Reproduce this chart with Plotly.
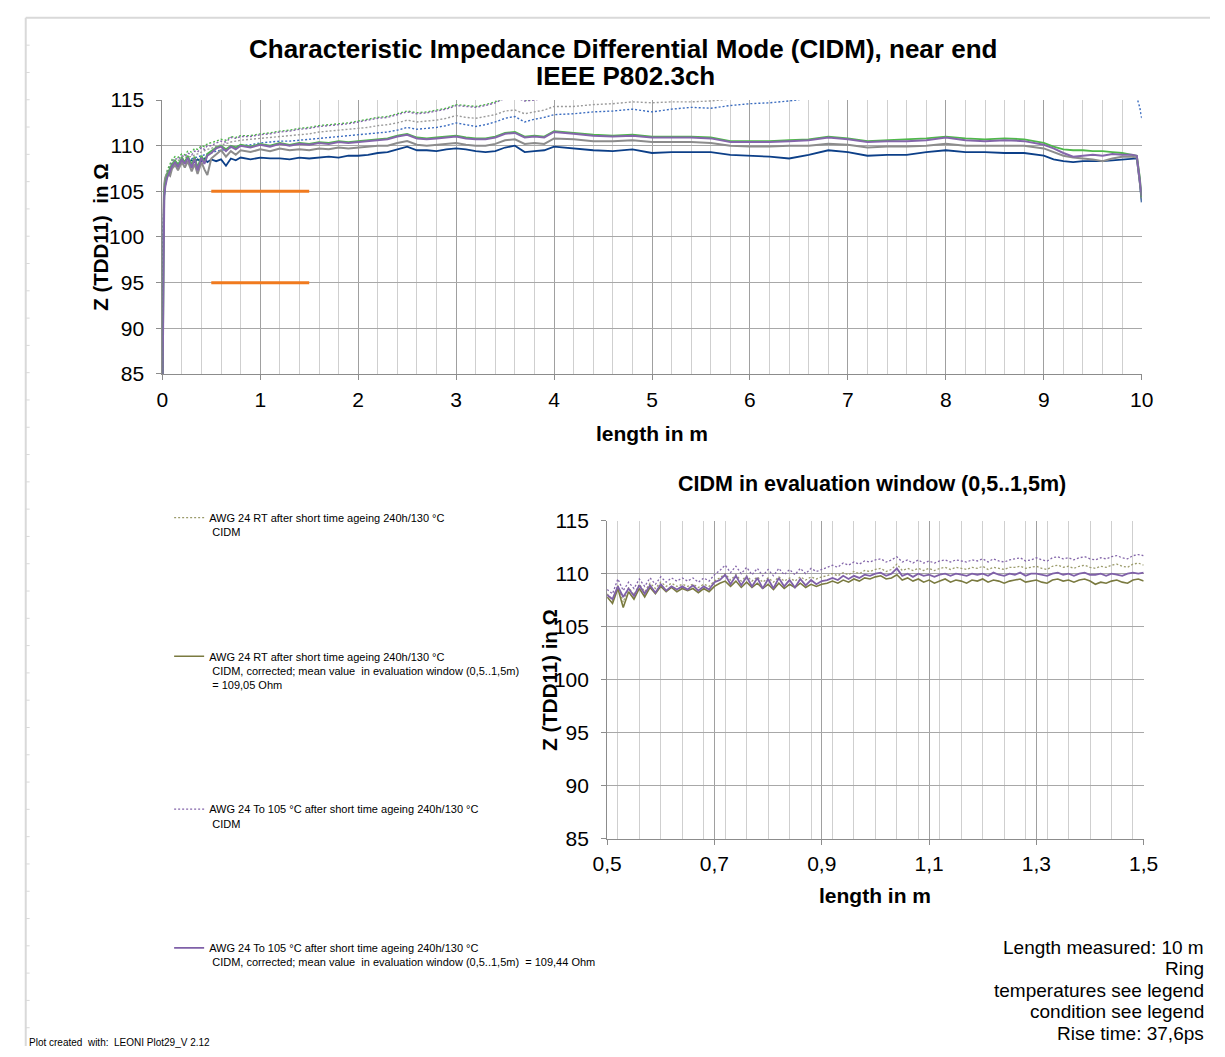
import plotly.graph_objects as go

# ---------------- data: overview chart (0..10 m) ----------------
length_top = [0.0, 0.005, 0.01, 0.02, 0.03, 0.05, 0.08, 0.1, 0.13, 0.16, 0.2, 0.23, 0.26, 0.3, 0.33, 0.36,
              0.4, 0.43, 0.46, 0.5, 0.55, 0.6, 0.65, 0.7, 0.75, 0.8, 0.9, 1.0, 1.1, 1.2, 1.3, 1.4, 1.5,
              1.6, 1.7, 1.8, 1.9, 2.0, 2.1, 2.2, 2.3, 2.4, 2.5, 2.6, 2.7, 2.8, 2.9, 3.0, 3.1, 3.2, 3.3,
              3.4, 3.5, 3.6, 3.7, 3.8, 3.9, 4.0, 4.2, 4.4, 4.6, 4.8, 5.0, 5.2, 5.4, 5.6, 5.8, 6.0, 6.2,
              6.4, 6.6, 6.8, 7.0, 7.2, 7.4, 7.6, 7.8, 8.0, 8.2, 8.4, 8.6, 8.8, 9.0, 9.1, 9.2, 9.3, 9.4,
              9.5, 9.6, 9.7, 9.8, 9.9, 9.95, 9.98, 10.0]

blue_solid = [80, 92, 101, 104.5, 105.8, 106.8, 107.3, 107.6, 107.8, 108.0, 108.1, 108.3, 108.2, 108.4, 108.2, 108.5,
              108.3, 108.6, 108.2, 108.5, 108.3, 108.5, 107.8, 108.6, 108.4, 108.7, 108.5, 108.7, 108.6, 108.6, 108.5, 108.7, 108.6,
              108.7, 108.8, 108.7, 108.9, 108.9, 109.0, 109.2, 109.3, 109.6, 109.9, 109.5, 109.5, 109.4, 109.6, 109.7, 109.6, 109.4, 109.3,
              109.4, 109.8, 110.0, 109.3, 109.4, 109.5, 109.9, 109.7, 109.5, 109.4, 109.6, 109.2, 109.3, 109.3, 109.3, 109.0, 108.9, 108.8,
              108.6, 109.0, 109.5, 109.3, 108.9, 109.0, 109.0, 109.3, 109.5, 109.3, 109.3, 109.2, 109.2, 108.9, 108.5, 108.3, 108.2, 108.3,
              108.3, 108.3, 108.4, 108.5, 108.6, 108.6, 106.0, 103.8]

gray_solid = [80, 95, 103, 105.8, 106.5, 107.0, 106.7, 107.5, 107.9, 107.3, 108.2, 107.6, 108.3, 107.2, 108.0, 106.9,
              108.2, 107.4, 106.8, 108.6, 109.0, 109.5, 108.8, 109.4, 109.0, 109.5, 109.3, 109.6, 109.4, 109.7, 109.5, 109.6, 109.5,
              109.7, 109.6, 109.8, 109.7, 109.8, 109.9, 110.0, 110.0, 110.3, 110.5, 110.1, 110.0, 110.1, 110.2, 110.3, 110.1, 110.0, 110.0,
              110.2, 110.6, 110.7, 110.2, 110.3, 110.2, 110.8, 110.7, 110.5, 110.5, 110.6, 110.4, 110.4, 110.4, 110.3, 110.0, 109.9, 109.9,
              110.0, 110.0, 110.2, 110.1, 109.8, 109.9, 109.9, 110.0, 110.2, 110.0, 110.0, 110.0, 110.0, 109.7, 109.3, 108.9, 108.7, 108.6,
              108.5, 108.3, 108.6, 108.8, 108.8, 108.7, 106.3, 104.2]

green_solid = [80, 89, 100.5, 104.8, 105.8, 106.8, 107.6, 108.0, 108.4, 107.9, 108.7, 108.2, 108.9, 107.9, 108.8, 107.6,
               108.9, 108.2, 109.1, 109.4, 109.8, 110.0, 109.6, 110.0, 109.8, 110.1, 109.9, 110.2, 110.0, 110.3, 110.1, 110.3, 110.2,
               110.4, 110.3, 110.5, 110.4, 110.5, 110.6, 110.7, 110.8, 111.1, 111.3, 110.9, 110.8, 110.9, 111.0, 111.1, 110.9, 110.8, 110.8,
               111.0, 111.4, 111.5, 111.0, 111.1, 111.0, 111.6, 111.4, 111.2, 111.1, 111.2, 111.0, 111.0, 111.0, 110.9, 110.5, 110.5, 110.5,
               110.6, 110.7, 111.0, 110.8, 110.5, 110.6, 110.7, 110.8, 111.0, 110.8, 110.7, 110.8, 110.7, 110.3, 109.9, 109.6, 109.5, 109.5,
               109.4, 109.4, 109.3, 109.2, 109.0, 108.9, 106.6, 104.4]

purple_solid = [80, 88, 100, 104.5, 105.5, 106.5, 107.3, 107.8, 108.2, 107.7, 108.5, 108.0, 108.7, 107.6, 108.6, 107.3,
                108.7, 108.0, 108.9, 109.2, 109.7, 109.9, 109.4, 109.9, 109.6, 110.0, 109.8, 110.1, 109.9, 110.2, 110.0, 110.2, 110.1,
                110.3, 110.2, 110.4, 110.3, 110.4, 110.5, 110.6, 110.7, 111.0, 111.2, 110.8, 110.7, 110.8, 110.9, 111.0, 110.8, 110.7, 110.7,
                110.9, 111.3, 111.4, 110.9, 111.0, 110.9, 111.5, 111.3, 111.1, 111.0, 111.1, 110.9, 110.9, 110.9, 110.8, 110.4, 110.4, 110.4,
                110.5, 110.6, 110.9, 110.7, 110.4, 110.5, 110.5, 110.6, 110.9, 110.6, 110.5, 110.6, 110.5, 110.1, 109.7, 109.2, 108.8, 108.9,
                109.0, 108.9, 109.1, 109.0, 109.0, 108.9, 106.5, 104.5]

blue_dotted = [80, 91, 101, 104.8, 106.0, 106.9, 107.5, 107.8, 108.0, 108.1, 108.3, 108.4, 108.5, 108.6, 108.7, 108.8,
               108.9, 109.0, 109.1, 109.2, 109.4, 109.5, 109.6, 109.8, 109.9, 110.0, 110.1, 110.3, 110.4, 110.5, 110.5, 110.6, 110.7,
               110.8, 110.9, 111.0, 111.1, 111.2, 111.3, 111.4, 111.5, 111.7, 112.0, 111.8, 111.9, 112.0, 112.2, 112.5, 112.3, 112.1, 112.3,
               112.6, 113.0, 113.2, 112.6, 112.9, 113.1, 113.4, 113.5, 113.7, 113.8, 114.0, 113.7, 114.0, 114.2, 114.1, 114.4, 114.6, 114.7,
               114.9, 115.2, 115.4, 115.5, 115.5, 115.6, 115.6, 115.7, 115.8, 115.8, 115.8, 115.8, 115.9, 115.9, 115.9, 115.9, 115.9, 115.9,
               115.9, 115.9, 115.9, 115.9, 115.8, 115.3, 114.2, 113.0]

gray_dotted = [80, 92, 101.5, 105.0, 106.2, 107.1, 107.7, 108.0, 108.2, 108.4, 108.6, 108.7, 108.8, 108.8, 109.0, 109.1,
               109.3, 109.4, 109.6, 109.7, 109.9, 110.1, 110.2, 110.4, 110.5, 110.6, 110.7, 110.8, 110.9, 111.0, 111.1, 111.2, 111.3,
               111.5, 111.6, 111.7, 111.8, 111.9, 112.0, 112.2, 112.3, 112.5, 112.8, 112.6, 112.7, 112.8, 113.0, 113.3, 113.1, 113.0, 113.2,
               113.4, 113.8, 113.9, 113.5, 113.7, 113.9, 114.3, 114.3, 114.5, 114.6, 114.8, 114.7, 114.8, 114.8, 114.9, 115.1, 115.3, 115.4,
               115.5, 115.6, 115.7, 115.7, 115.7, 115.8, 115.8, 115.8, 115.9, 115.9, 115.9, 115.9, 116.0, 116.0, 116.0, 116.0, 116.0, 116.0,
               116.0, 116.0, 116.0, 116.0, 116.0, 116.0, 116.0, 116.0]

green_dotted = [80, 90, 101, 105.2, 106.3, 107.3, 108.0, 108.5, 108.8, 108.7, 109.1, 109.0, 109.4, 109.3, 109.7, 109.6,
                110.0, 109.9, 110.2, 110.3, 110.5, 110.7, 110.6, 111.0, 110.9, 111.1, 111.1, 111.3, 111.4, 111.6, 111.7, 111.9, 112.0,
                112.2, 112.3, 112.4, 112.5, 112.7, 112.9, 113.1, 113.2, 113.5, 113.8, 113.6, 113.7, 113.9, 114.1, 114.5, 114.4, 114.3, 114.5,
                114.8, 115.3, 115.4, 115.0, 115.1, 115.3, 115.9, 116.0, 116.0, 116.1, 116.1, 116.1, 116.1, 116.2, 116.2, 116.2, 116.2, 116.2,
                116.2, 116.3, 116.3, 116.3, 116.3, 116.3, 116.3, 116.3, 116.3, 116.3, 116.3, 116.3, 116.3, 116.3, 116.3, 116.3, 116.3, 116.3,
                116.3, 116.3, 116.3, 116.3, 116.3, 116.3, 116.3, 116.3]

purple_dotted = [80, 90, 101, 105.0, 106.0, 107.0, 107.8, 108.3, 108.6, 108.5, 108.9, 108.8, 109.2, 109.0, 109.4, 109.3,
                 109.8, 109.6, 110.0, 110.0, 110.3, 110.5, 110.4, 110.9, 110.8, 111.0, 111.0, 111.2, 111.3, 111.5, 111.6, 111.8, 111.9,
                 112.1, 112.2, 112.3, 112.4, 112.6, 112.8, 113.0, 113.1, 113.4, 113.7, 113.5, 113.6, 113.8, 114.0, 114.4, 114.3, 114.2, 114.4,
                 114.7, 115.2, 115.3, 114.9, 115.0, 115.2, 115.8, 115.9, 115.9, 116.0, 116.0, 116.0, 116.0, 116.1, 116.1, 116.1, 116.1, 116.1,
                 116.1, 116.2, 116.2, 116.2, 116.2, 116.2, 116.2, 116.2, 116.2, 116.2, 116.2, 116.2, 116.2, 116.2, 116.2, 116.2, 116.2, 116.2,
                 116.2, 116.2, 116.2, 116.2, 116.2, 116.2, 116.2, 116.2]

limit_x = [0.5, 1.5]
upper_limit = [105, 105]
lower_limit = [95, 95]

# ---------------- data: evaluation window (0,5..1,5 m) ----------------
length_win = [round(0.5 + 0.01 * i, 2) for i in range(101)]

rt_raw = [108.1, 107.5, 108.9, 107.3, 108.7, 108.0, 109.0, 108.3, 109.1, 108.6, 109.2, 108.8, 109.1, 108.8, 109.0, 108.8,
          109.0, 108.7, 109.0, 108.8, 109.3, 109.6, 110.0, 109.4, 109.9, 109.3, 109.8, 109.3, 109.7, 109.2, 109.6, 109.2,
          109.7, 109.3, 109.6, 109.3, 109.7, 109.4, 109.7, 109.5, 109.7, 109.8, 110.0, 109.8, 110.1, 109.9, 110.2, 110.0,
          110.3, 110.2, 110.4, 110.5, 110.2, 110.4, 110.9, 110.3, 110.5, 110.3, 110.5, 110.3, 110.5, 110.3, 110.5, 110.6,
          110.4, 110.6, 110.5, 110.4, 110.6, 110.5, 110.7, 110.4, 110.6, 110.5, 110.4, 110.6, 110.6, 110.7, 110.5, 110.6,
          110.7, 110.5, 110.4, 110.7, 110.8, 110.6, 110.7, 110.5, 110.7, 110.8, 110.6, 110.5, 110.7, 110.6, 110.8, 110.9,
          110.7, 110.6, 110.9, 111.0, 110.8]

rt_corrected = [107.8, 107.2, 108.6, 106.8, 108.3, 107.6, 108.6, 107.8, 108.7, 108.1, 108.8, 108.3, 108.7, 108.3, 108.6, 108.4,
                108.6, 108.2, 108.6, 108.3, 108.8, 109.1, 109.3, 108.8, 109.3, 108.7, 109.2, 108.7, 109.1, 108.6, 109.0, 108.5,
                109.1, 108.6, 109.0, 108.7, 109.1, 108.7, 109.0, 108.8, 109.0, 109.1, 109.3, 109.1, 109.4, 109.2, 109.5, 109.3,
                109.6, 109.5, 109.7, 109.8, 109.5, 109.6, 109.9, 109.4, 109.6, 109.3, 109.5, 109.2, 109.4, 109.1, 109.3, 109.5,
                109.2, 109.4, 109.3, 109.1, 109.4, 109.3, 109.5, 109.2, 109.4, 109.3, 109.1, 109.3, 109.4, 109.5, 109.2, 109.3,
                109.4, 109.2, 109.1, 109.4, 109.5, 109.3, 109.4, 109.2, 109.4, 109.5, 109.3, 109.0, 109.2, 109.1, 109.3, 109.4,
                109.2, 109.1, 109.4, 109.5, 109.3]

t105_raw = [108.5, 108.1, 109.5, 108.4, 109.2, 108.6, 109.5, 108.8, 109.6, 109.0, 109.7, 109.2, 109.6, 109.3, 109.6, 109.3,
            109.6, 109.2, 109.6, 109.3, 109.9, 110.3, 110.8, 110.1, 110.7, 110.0, 110.6, 109.9, 110.5, 109.8, 110.4, 109.8,
            110.5, 109.9, 110.4, 109.9, 110.5, 110.0, 110.5, 110.2, 110.4, 110.6, 110.8, 110.6, 111.0, 110.8, 111.1, 110.9,
            111.2, 111.1, 111.3, 111.4, 111.1, 111.3, 111.6, 111.1, 111.3, 111.0, 111.3, 111.0, 111.2, 111.0, 111.2, 111.3,
            111.1, 111.3, 111.2, 111.1, 111.3, 111.2, 111.4, 111.1, 111.4, 111.2, 111.1, 111.3, 111.4, 111.5, 111.2, 111.3,
            111.5, 111.3, 111.2, 111.5, 111.6, 111.4, 111.5, 111.3, 111.5, 111.6, 111.4, 111.3, 111.5, 111.4, 111.6, 111.7,
            111.5, 111.4, 111.7, 111.8, 111.7]

t105_corrected = [108.0, 107.6, 108.8, 107.8, 108.6, 107.9, 108.9, 108.1, 108.9, 108.2, 109.0, 108.4, 108.8, 108.5, 108.8, 108.5,
                  108.9, 108.4, 108.8, 108.5, 109.2, 109.4, 109.9, 109.0, 109.8, 108.9, 109.7, 108.8, 109.6, 108.6, 109.5, 108.6,
                  109.6, 108.8, 109.4, 108.7, 109.5, 108.9, 109.4, 109.0, 109.3, 109.4, 109.6, 109.4, 109.8, 109.5, 109.8, 109.6,
                  109.9, 109.8, 110.0, 110.1, 109.8, 110.0, 110.5, 109.8, 110.0, 109.7, 110.0, 109.8, 109.9, 109.7, 109.9, 110.0,
                  109.8, 110.0, 109.9, 109.8, 110.0, 109.9, 110.0, 109.8, 110.1, 109.9, 109.8, 110.0, 109.9, 110.1, 109.8, 110.0,
                  110.0, 109.9, 109.8, 110.0, 110.1, 109.9, 110.0, 109.8, 110.0, 110.1, 109.9, 109.9, 110.0, 109.8, 110.0, 109.9,
                  109.8, 110.0, 110.1, 110.0, 110.1]

legend_names = [
    "AWG 24 RT after short time ageing 240h/130 °C<br>&nbsp;CIDM",
    "AWG 24 RT after short time ageing 240h/130 °C<br>&nbsp;CIDM, corrected; mean value&nbsp; in evaluation window (0,5..1,5m)<br>&nbsp;= 109,05 Ohm",
    "AWG 24 To 105 °C after short time ageing 240h/130 °C<br>&nbsp;CIDM",
    "AWG 24 To 105 °C after short time ageing 240h/130 °C<br>&nbsp;CIDM, corrected; mean value&nbsp; in evaluation window (0,5..1,5m)&nbsp; = 109,44 Ohm",
]

info_lines = ["Length measured: 10 m", "Ring", "temperatures see legend", "condition see legend", "Rise time: 37,6ps"]

# ---------------- figure ----------------
W, H = 1225, 1057
FONT = "Liberation Sans, Arial, sans-serif"
DOTS = "2px,2px"


def px(x):
    return x / W


def py(y):
    return 1 - y / H


fig = go.Figure()

top_series = [
    (blue_dotted, "#3A6CC0", DOTS, 1.4),
    (gray_dotted, "#9B9B9B", DOTS, 1.4),
    (green_dotted, "#4FB84A", DOTS, 1.4),
    (purple_dotted, "#8466AA", DOTS, 1.4),
    (blue_solid, "#0C3F88", "solid", 1.8),
    (gray_solid, "#8C8C8C", "solid", 2.0),
    (green_solid, "#4FB84A", "solid", 1.8),
    (purple_solid, "#8466AA", "solid", 2.0),
]
for vals, col, dash, w in top_series:
    fig.add_trace(go.Scatter(x=length_top, y=vals, mode="lines", showlegend=False,
                             line=dict(color=col, dash=dash, width=w), xaxis="x", yaxis="y"))

for lim in (upper_limit, lower_limit):
    fig.add_trace(go.Scatter(x=limit_x, y=lim, mode="lines", showlegend=False,
                             line=dict(color="#F07A1E", width=3), xaxis="x", yaxis="y"))

win_series = [
    (rt_raw, "#9C9C6C", DOTS, 1.3),
    (rt_corrected, "#7A7A40", "solid", 1.6),
    (t105_raw, "#8466AA", DOTS, 1.3),
    (t105_corrected, "#7F60A8", "solid", 1.8),
]
for i, (vals, col, dash, w) in enumerate(win_series):
    fig.add_trace(go.Scatter(x=length_win, y=vals, mode="lines", name=legend_names[i],
                             legendgroup=f"g{i}", showlegend=True,
                             line=dict(color=col, dash=dash, width=w), xaxis="x2", yaxis="y2"))

axis_common = dict(showline=True, linecolor="#8C8C8C", linewidth=1, ticks="outside", ticklen=5,
                   tickcolor="#8C8C8C", zeroline=False, showgrid=True, gridwidth=1,
                   tickfont=dict(family=FONT, size=21, color="#000000"))

fig.update_layout(
    width=W, height=H,
    margin=dict(l=0, r=0, t=0, b=0),
    paper_bgcolor="white", plot_bgcolor="white",
    separators=", ",
    font=dict(family=FONT, color="#000000"),
    xaxis=dict(domain=[px(151), px(1155)], range=[0, 10], tick0=0, dtick=1, anchor="y",
               gridcolor="#A0A0A0", ticklabelstandoff=2,
               minor=dict(dtick=0.2, showgrid=True, gridcolor="#CFCFCF", gridwidth=1, ticks=""),
               **axis_common),
    yaxis=dict(domain=[py(370), py(90)], range=[85, 115], tick0=85, dtick=5, anchor="x",
               gridcolor="#A8A8A8", ticklabelstandoff=8, **axis_common),
    xaxis2=dict(domain=[px(607), px(1157)], range=[0.5, 1.5], tick0=0.5, dtick=0.2, anchor="y2",
                gridcolor="#A0A0A0", ticklabelstandoff=1,
                minor=dict(dtick=0.04, showgrid=True, gridcolor="#CFCFCF", gridwidth=1, ticks=""),
                **axis_common),
    yaxis2=dict(domain=[py(845), py(520)], range=[85, 115], tick0=85, dtick=5, anchor="x2",
                gridcolor="#A8A8A8", ticklabelstandoff=8, **axis_common),
    legend=dict(x=px(158), y=py(503), xanchor="left", yanchor="top", valign="top",
                tracegroupgap=107, bgcolor="rgba(0,0,0,0)",
                font=dict(family=FONT, size=11, color="#000000")),
)

ann = []
ann.append(dict(text="<b>Characteristic Impedance Differential Mode (CIDM), near end</b>",
                x=px(623), y=py(38), font=dict(size=26)))
ann.append(dict(text="<b>IEEE P802.3ch</b>", x=px(626), y=py(65), font=dict(size=26)))
ann.append(dict(text="<b>length in m</b>", x=px(653), y=py(431), font=dict(size=21)))
ann.append(dict(text="<b>Z (TDD11)  in Ω</b>", x=px(88), y=py(230), textangle=-90, font=dict(size=20.5)))
ann.append(dict(text="<b>CIDM in evaluation window (0,5..1,5m)</b>", x=px(879), y=py(482), font=dict(size=21.5)))
ann.append(dict(text="<b>Z (TDD11) in Ω</b>", x=px(548), y=py(683), textangle=-90, font=dict(size=20.5)))
ann.append(dict(text="<b>length in m</b>", x=px(882), y=py(903), font=dict(size=21)))
for a in ann:
    a.update(xref="paper", yref="paper", showarrow=False, xanchor="center", yanchor="middle")
    a["font"].update(family=FONT, color="#000000")

for k, line in enumerate(info_lines):
    ann.append(dict(text=line, x=px(1221), y=py(956 + 22 * k), xref="paper", yref="paper",
                    showarrow=False, xanchor="right", yanchor="middle", align="right",
                    font=dict(family=FONT, size=19, color="#000000")))
ann.append(dict(text="Plot created  with:  LEONI Plot29_V 2.12", x=px(12), y=py(1046), xref="paper", yref="paper",
                showarrow=False, xanchor="left", yanchor="top", align="left",
                font=dict(family=FONT, size=10, color="#000000")))
fig.update_layout(annotations=ann)

# light page frame (top and left border of the sheet, with its small tick marks)
frame_ticks = " ".join(f"M{px(11):.5f},{py(6 + 27.9 * k):.5f} L{px(15):.5f},{py(6 + 27.9 * k):.5f}"
                       for k in range(1, 38))
fig.update_layout(shapes=[
    dict(type="line", xref="paper", yref="paper", x0=px(11), x1=1, y0=py(6), y1=py(6),
         line=dict(color="#D9D9D9", width=2)),
    dict(type="line", xref="paper", yref="paper", x0=px(11), x1=px(11), y0=py(6), y1=0,
         line=dict(color="#D9D9D9", width=2)),
    dict(type="path", xref="paper", yref="paper", path=frame_ticks,
         line=dict(color="#D9D9D9", width=1)),
])

fig.write_html("out.html")
